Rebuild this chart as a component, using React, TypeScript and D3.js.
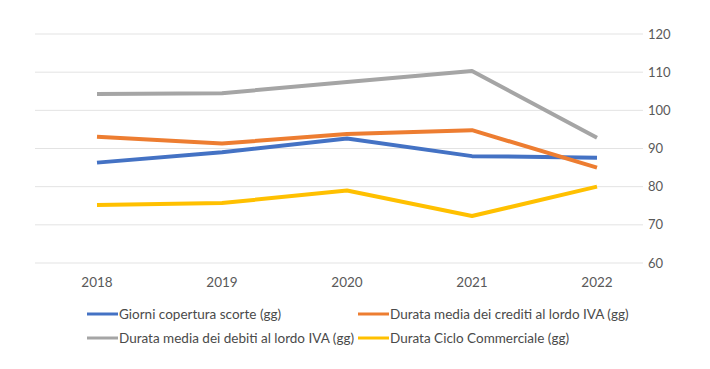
import React from "react";
import * as d3 from "d3";

const years = ["2018", "2019", "2020", "2021", "2022"];
const yTicks = [60, 70, 80, 90, 100, 110, 120];

const scorte = [86.3, 89.0, 92.6, 88.0, 87.6];
const crediti = [93.1, 91.3, 93.8, 94.8, 85.0];
const debiti = [104.3, 104.5, 107.4, 110.3, 92.8];
const ciclo = [75.2, 75.7, 79.0, 72.3, 80.0];

const seriesNames = [
  "Giorni copertura scorte (gg)",
  "Durata media dei crediti al lordo IVA (gg)",
  "Durata media dei debiti al lordo IVA (gg)",
  "Durata Ciclo Commerciale (gg)",
];
const seriesColors = ["#4472C4", "#ED7D31", "#A5A5A5", "#FFC000"];

const W = 710;
const H = 369;
const font = "Lato, 'Open Sans', sans-serif";

export default function App() {
  const x = d3.scalePoint<string>().domain(years).range([97, 597]);
  const y = d3.scaleLinear().domain([60, 120]).range([263, 34]);

  const data = [scorte, crediti, debiti, ciclo];
  const line = d3
    .line<number>()
    .x((_, i) => x(years[i]) as number)
    .y((d) => y(d));

  const legend = [
    { i: 0, lx: 87, ly: 314 },
    { i: 1, lx: 358, ly: 314 },
    { i: 2, lx: 87, ly: 338 },
    { i: 3, lx: 358, ly: 338 },
  ];

  return (
    <svg
      width={W}
      height={H}
      style={{ position: "absolute", left: 0, top: 0, background: "#fff" }}
      fontFamily={font}
    >
      {/* gridlines */}
      {yTicks.map((t) => (
        <line
          key={t}
          x1={35}
          x2={643}
          y1={y(t)}
          y2={y(t)}
          stroke="#E3E3E3"
          strokeWidth={1}
        />
      ))}
      {/* right axis labels */}
      {yTicks.map((t) => (
        <text
          key={t}
          x={648}
          y={y(t)}
          dy="0.35em"
          fontSize={13}
          fill="#595959"
        >
          {t}
        </text>
      ))}
      {/* x labels */}
      {years.map((yr) => (
        <text
          key={yr}
          x={x(yr)}
          y={282}
          dy="0.35em"
          textAnchor="middle"
          fontSize={13.5}
          fill="#595959"
        >
          {yr}
        </text>
      ))}
      {/* lines */}
      {data.map((s, i) => (
        <path
          key={i}
          d={line(s) || ""}
          fill="none"
          stroke={seriesColors[i]}
          strokeWidth={4}
          strokeLinejoin="round"
        />
      ))}
      {/* legend */}
      {legend.map((l) => (
        <g key={l.i}>
          <line
            x1={l.lx}
            x2={l.lx + 31}
            y1={l.ly}
            y2={l.ly}
            stroke={seriesColors[l.i]}
            strokeWidth={3}
          />
          <text
            x={l.lx + 32}
            y={l.ly}
            dy="0.35em"
            fontSize={13.5}
            fill="#4A4A4A"
          >
            {seriesNames[l.i]}
          </text>
        </g>
      ))}
    </svg>
  );
}
